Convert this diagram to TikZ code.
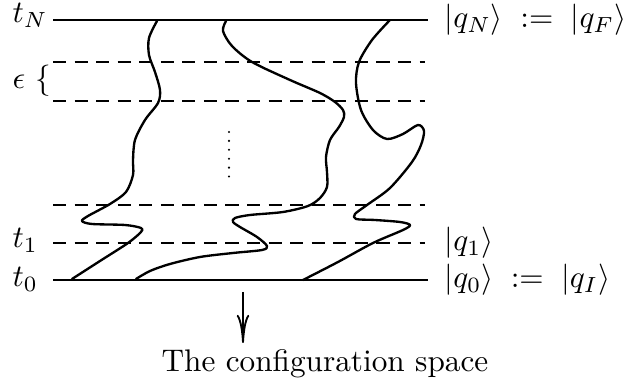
\documentclass[tikz,border=0pt]{standalone}
\usetikzlibrary{arrows.meta}
\begin{document}
\begin{tikzpicture}[x=0.32pt,y=-0.32pt,
  solidline/.style={line width=0.75pt},
  dashline/.style={line width=0.75pt, dash pattern=on 4.2pt off 2.7pt},
  pathline/.style={line width=0.75pt, line join=round, line cap=round},
  lbl/.style={inner sep=0pt, anchor=base west},
  ]
\useasboundingbox (0,0) rectangle (624,385);
% levels
\coordinate (NL) at (53,20);  \coordinate (NR) at (428,20);
\coordinate (D1L) at (53,62); \coordinate (D1R) at (425,62);
\coordinate (D2L) at (53,101); \coordinate (D2R) at (425,101);
\coordinate (D3L) at (53,205); \coordinate (D3R) at (425,205);
\coordinate (D4L) at (53,243); \coordinate (D4R) at (425,243);
\coordinate (ZL) at (53,280); \coordinate (ZR) at (428,280);
\draw[solidline] (NL) -- (NR);
\draw[dashline] (D1L) -- (D1R);
\draw[dashline] (D2L) -- (D2R);
\draw[dashline] (D3L) -- (D3R);
\draw[dashline] (D4L) -- (D4R);
\draw[solidline] (ZL) -- (ZR);
% labels
\node[lbl] (tN) at (12,23) {$t_N$};
\node[lbl] (eps) at (12,89) {$\epsilon\ \{$};
\node[lbl] (t1) at (12,248) {$t_1$};
\node[lbl] (t0) at (12,287) {$t_0$};
\node[lbl] (qN) at (444,28) {$|q_N\rangle\;:=\;|q_F\rangle$};
\node[lbl] (q1) at (444,251) {$|q_1\rangle$};
\node[lbl] (q0) at (444,288) {$|q_0\rangle\;:=\;|q_I\rangle$};
\node[lbl] (cs) at (161,372) {The configuration space};
% dots
\coordinate (dotsT) at (229,132); \coordinate (dotsB) at (229,178);
\draw[line width=0.75pt, dash pattern=on 0pt off 2.85pt, line cap=round] (dotsT) -- (dotsB);
% arrow
\coordinate (arT) at (243,292); \coordinate (arB) at (243,343);
\draw[line width=0.6pt, -{To[length=9pt,width=4pt]}] (arT) -- (arB);
% paths
\draw[pathline] plot[smooth] coordinates {(157,21) (149,38) (149,55) (155,72) (160,90) (158,103) (145,120) (135,140) (133,160) (133,175) (126,192) (110,204) (88,216) (82,221) (92,224) (125,225) (141,228) (141,232) (128,243) (100,261) (72,279)};
\draw[pathline] plot[smooth] coordinates {(226,21) (223,31) (232,46) (252,62) (290,80) (320,93) (335,102) (343,110) (344,117) (339,127) (330,140) (326,157) (327,172) (327,187) (320,198) (308,206) (283,212) (250,215) (235,218) (233,222) (240,227) (257,237) (267,246) (262,250) (233,253) (200,257) (170,264) (150,271) (136,279)};
\draw[pathline] plot[smooth] coordinates {(390,20) (372,40) (359,62) (356,83) (361,110) (373,130) (387,139) (403,134) (418,125) (424,131) (421,145) (412,162) (390,188) (367,205) (355,214) (356,219) (375,220) (400,222) (410,225) (403,230) (373,243) (338,262) (303,280)};
\end{tikzpicture}
\end{document}
